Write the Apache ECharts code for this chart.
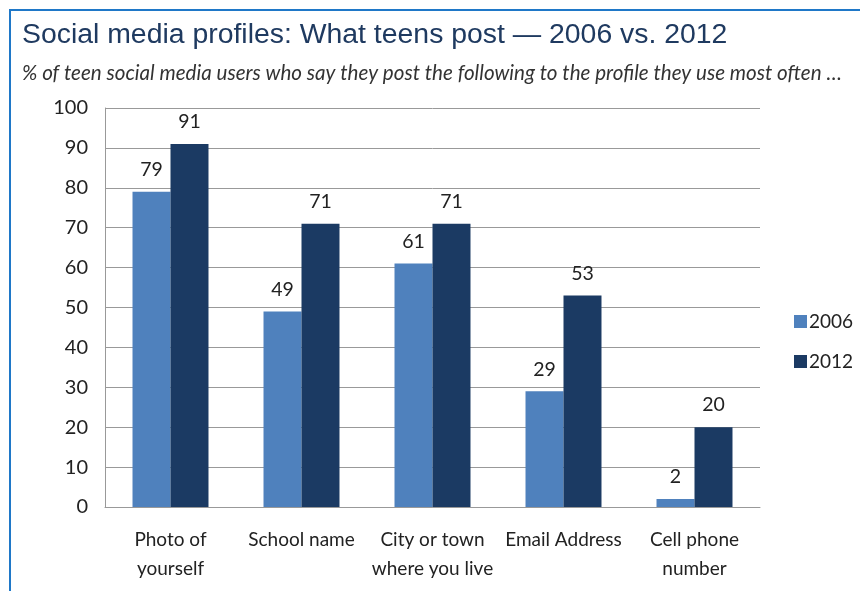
<!DOCTYPE html>
<html><head><meta charset="utf-8">
<script src="https://cdn.jsdelivr.net/npm/echarts@6/dist/echarts.min.js"></script>
<style>
html,body{margin:0;padding:0;background:#fff;}
#frame{position:absolute;left:9px;top:9px;width:851px;height:582px;border-left:2px solid #1f78c8;border-top:2px solid #1f78c8;}
#c{position:absolute;left:0;top:0;width:860px;height:591px;}
</style></head>
<body><div id="frame"></div><div id="c"></div>
<script>
const categories = ['Photo of\nyourself', 'School name', 'City or town\nwhere you live', 'Email Address', 'Cell phone\nnumber'];
const values2006 = [79, 49, 61, 29, 2];
const values2012 = [91, 71, 71, 53, 20];
const yTicks = [0, 10, 20, 30, 40, 50, 60, 70, 80, 90, 100];

const chart = echarts.init(document.getElementById('c'), null, {renderer: 'canvas'});
const lblFont = 'Lato, "Open Sans", sans-serif';
chart.setOption({
  animation: false,
  backgroundColor: 'transparent',
  title: [{
    text: 'Social media profiles: What teens post \u2014 2006 vs. 2012',
    left: 17, top: 16,
    textStyle: {fontFamily: '"Liberation Sans", Arial, sans-serif', fontSize: 28.4, fontWeight: 'normal', color: '#1f3a60'}
  }, {
    text: '% of teen social media users who say they post the following to the profile they use most often \u2026',
    left: 17, top: 58,
    textStyle: {fontFamily: lblFont, fontSize: 20.6, fontStyle: 'italic', fontWeight: 'normal', color: '#333'}
  }],
  legend: {
    orient: 'vertical', left: 789, top: 307, itemGap: 21,
    itemWidth: 13, itemHeight: 13, icon: 'rect',
    textStyle: {fontFamily: lblFont, fontSize: 19, color: '#222', padding: [0,0,0,-3]},
    data: ['2006', '2012']
  },
  grid: {left: 105, right: 100, top: 108, bottom: 84, containLabel: false},
  xAxis: {
    type: 'category', data: categories,
    axisLine: {show: true, lineStyle: {color: '#999', width: 1}},
    axisTick: {show: false},
    axisLabel: {fontFamily: lblFont, fontSize: 19, color: '#222', margin: 18, lineHeight: 29, interval: 0}
  },
  yAxis: {
    type: 'value', min: 0, max: 100, interval: 10,
    axisLine: {show: true, lineStyle: {color: '#999'}},
    axisTick: {show: false},
    splitLine: {lineStyle: {color: '#999', width: 1}},
    axisLabel: {fontFamily: lblFont, fontSize: 20, color: '#222', margin: 17,
      formatter: v => yTicks.includes(v) ? String(v) : ''}
  },
  series: [{
    name: '2006', type: 'bar', data: values2006, barGap: '0%', barCategoryGap: '42%',
    itemStyle: {color: '#4f81bd'},
    label: {show: true, position: 'top', distance: 12, fontFamily: lblFont, fontSize: 19.5, color: '#222'}
  }, {
    name: '2012', type: 'bar', data: values2012,
    itemStyle: {color: '#1b3a63'},
    label: {show: true, position: 'top', distance: 12, fontFamily: lblFont, fontSize: 19.5, color: '#222'}
  }]
});
</script></body></html>
